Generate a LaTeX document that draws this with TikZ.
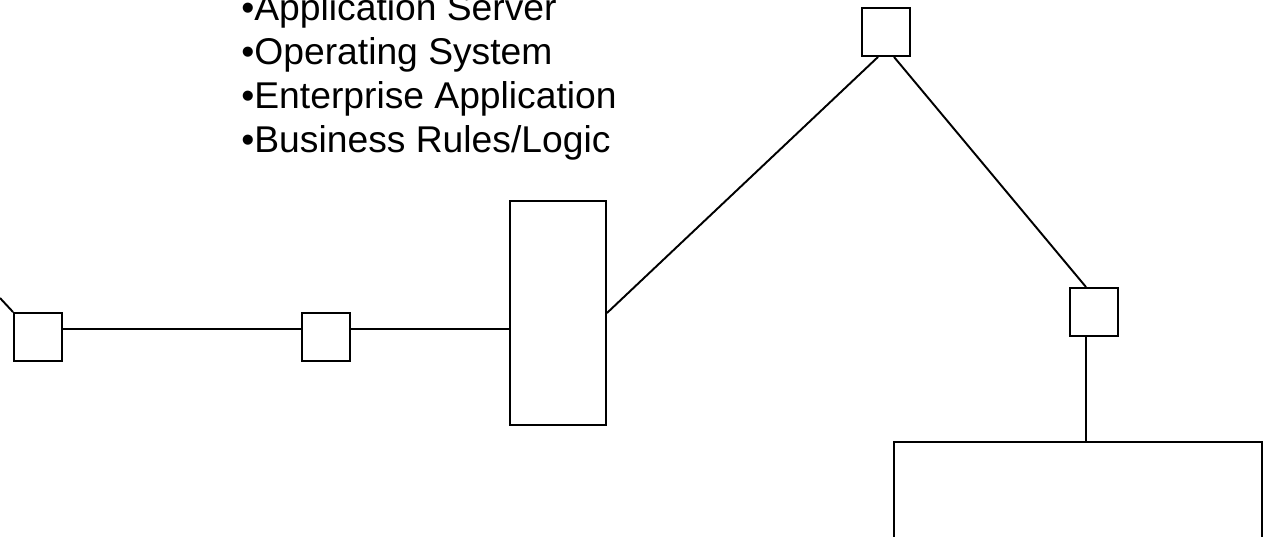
\documentclass[tikz,border=0pt]{standalone}
\usepackage{fontspec}
\setmainfont{Liberation Sans}
\usetikzlibrary{positioning}

\tikzset{
    box/.style={draw, line width=1.1pt, inner sep=0pt, minimum width=0.96cm, minimum height=0.96cm},
    link/.style={line width=1.1pt},
    item/.style={anchor=base west, inner sep=0pt, font=\fontsize{21.2}{25}\selectfont}
}

\begin{document}
\begin{tikzpicture}[x=0.02cm, y=-0.02cm]
    \useasboundingbox (0,0) rectangle (1264,537);

    % Bullet list
    \foreach \txt [count=\i] in {Application Server, Operating System, Enterprise Application, Business Rules/Logic}
        \node[item] (item\i) at (241,{21+44*(\i-1)}) {•\txt};

    % Small boxes
    \node[box] (nodeA) at (38,337) {};
    \node[box] (nodeB) at (326,337) {};
    \node[box] (nodeD) at (886,32) {};
    \node[box] (nodeE) at (1094,312) {};

    % Large boxes
    \node[box, minimum width=1.92cm, minimum height=4.48cm] (server) at (558,313) {};
    \node[box, minimum width=7.36cm, minimum height=1.96cm] (store) at (1078,491) {};

    % Connections
    \coordinate (outside) at (0,298);
    \draw[link] (outside) -- (nodeA.north west);
    \draw[link] ([yshift=0.16cm]nodeA.east) -- ([yshift=0.16cm]nodeB.west);
    \draw[link] ([yshift=0.16cm]nodeB.east) -- ([yshift=0.16cm]nodeB.east -| server.west);
    \draw[link] (server.east) -- ([xshift=-0.16cm]nodeD.south);
    \draw[link] ([xshift=0.16cm]nodeD.south) -- ([xshift=-0.16cm]nodeE.north);
    \draw[link] ([xshift=-0.16cm]nodeE.south) -- ([xshift=-0.16cm]nodeE.south |- store.north);
\end{tikzpicture}
\end{document}
